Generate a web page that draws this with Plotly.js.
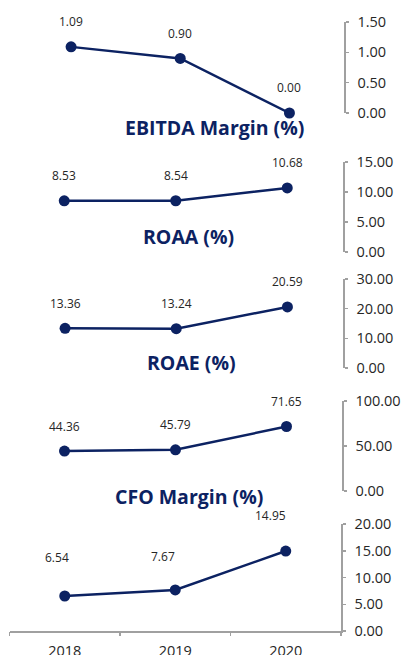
<!DOCTYPE html>
<html>
<head>
<meta charset="utf-8">
<script src="https://cdn.plot.ly/plotly-3.0.1.min.js"></script>
<style>html,body{margin:0;padding:0;background:#fff;}#chart{width:406px;height:655px;}</style>
</head>
<body>
<div id="chart"></div>
<script>
// ---- data ----
var years = ["2018", "2019", "2020"];
var ebitdaMargin = [1.09, 0.90, 0.00];
var roaa = [8.53, 8.54, 10.68];
var roae = [13.36, 13.24, 20.59];
var cfoMargin = [44.36, 45.79, 71.65];
var lastSeries = [6.54, 7.67, 14.95];
var titles = ["EBITDA Margin (%)", "ROAA (%)", "ROAE (%)", "CFO Margin (%)", ""];
var yMax = [1.5, 15, 30, 100, 20];
var yStep = [0.5, 5, 10, 50, 5];

// ---- layout config (pixels) ----
var W = 406, H = 655;
var NAVY = "#0c2262";
var GREY = "#a0a0a0";
var TXT = "#262626";
var FONT = "Open Sans, Noto Sans, sans-serif";
var series = [ebitdaMargin, roaa, roae, cfoMargin, lastSeries];
var panels = [
  {x0: 16.5, x1: 344, yTop: 22, yBot: 113, title: [215, 128], lblY: [25, 25, 25], lblX: [0, 0, 0]},
  {x0: 8.5, x1: 343, yTop: 162, yBot: 252, title: [188, 236], lblY: [25, 25, 25], lblX: [0, 0, 0]},
  {x0: 9.5, x1: 343, yTop: 279, yBot: 368, title: [191, 362], lblY: [25, 25, 25], lblX: [0, 0, 0]},
  {x0: 9, x1: 342, yTop: 401, yBot: 491, title: [189, 497], lblY: [25, 25, 25], lblX: [0, 0, 0]},
  {x0: 9.5, x1: 341, yTop: 524, yBot: 631, title: [0, 0], lblY: [39, 33, 36], lblX: [-8, -12, -15]}
];

var idx = years.map(function (_, j) { return j; });
var bounds = [-0.5].concat(idx.map(function (j) { return j + 0.5; }));

var data = [], annotations = [];
var layout = {
  width: W, height: H,
  margin: {l: 0, r: 0, t: 0, b: 0},
  paper_bgcolor: "#fff", plot_bgcolor: "#fff",
  showlegend: false,
  font: {family: FONT, color: TXT}
};

panels.forEach(function (p, i) {
  var n = i + 1;
  var xa = "xaxis" + (n === 1 ? "" : n), ya = "yaxis" + (n === 1 ? "" : n);
  var xr = "x" + (n === 1 ? "" : n), yr = "y" + (n === 1 ? "" : n);
  var isLast = (i === panels.length - 1);
  var tv = [];
  for (var v = 0; v <= yMax[i] + 1e-9; v += yStep[i]) tv.push(Math.round(v * 100) / 100);

  data.push({
    type: "scatter", mode: "lines+markers",
    x: idx, y: series[i], xaxis: xr, yaxis: yr,
    line: {color: NAVY, width: 2.5},
    marker: {color: NAVY, size: 11},
    cliponaxis: false, hoverinfo: "skip"
  });

  layout[xa] = {
    domain: [p.x0 / W, p.x1 / W],
    anchor: yr,
    type: "linear",
    range: [-0.5, idx.length - 0.5],
    visible: isLast,
    showgrid: false, zeroline: false,
    showline: isLast, linecolor: GREY, linewidth: 1.5,
    ticks: "",
    tickmode: "array", tickvals: idx, ticktext: years,
    ticklabelstandoff: 6,
    tickfont: {size: 14.5, color: TXT, family: FONT}
  };
  layout[ya] = {
    domain: [1 - p.yBot / H, 1 - p.yTop / H],
    anchor: xr,
    side: "right",
    range: [0, yMax[i]],
    showgrid: false, zeroline: false,
    showline: true, linecolor: GREY, linewidth: 1.5,
    ticks: "outside", ticklen: 3, tickcolor: GREY, tickwidth: 1.5,
    tickmode: "array", tickvals: tv, tickformat: ".2f",
    ticklabelstandoff: 6,
    tickfont: {size: 14.5, color: TXT, family: FONT}
  };

  if (isLast) {
    // boundary tick marks on an overlaying axis
    layout["xaxis6"] = {
      domain: [p.x0 / W, p.x1 / W],
      anchor: yr, overlaying: xr,
      type: "linear", range: [-0.5, idx.length - 0.5],
      showgrid: false, zeroline: false, showline: false,
      ticks: "outside", ticklen: 4, tickcolor: GREY, tickwidth: 1.5,
      tickmode: "array", tickvals: bounds, showticklabels: false
    };
    data.push({
      type: "scatter", mode: "markers", x: idx, y: series[i],
      xaxis: "x6", yaxis: yr, marker: {opacity: 0}, hoverinfo: "skip"
    });
  }

  series[i].forEach(function (val, j) {
    annotations.push({
      xref: xr, yref: yr, x: idx[j], y: val,
      text: val.toFixed(2), showarrow: false,
      yshift: p.lblY[j], xshift: p.lblX[j],
      font: {size: 12, color: TXT, family: FONT}
    });
  });

  if (titles[i]) {
    annotations.push({
      xref: "paper", yref: "paper",
      x: p.title[0] / W, y: 1 - p.title[1] / H,
      xanchor: "center", yanchor: "middle",
      text: "<b>" + titles[i] + "</b>", showarrow: false,
      font: {size: 19.5, color: NAVY, family: FONT}
    });
  }
});

layout.annotations = annotations;
Plotly.newPlot("chart", data, layout, {staticPlot: true, displayModeBar: false});
</script>
</body>
</html>
